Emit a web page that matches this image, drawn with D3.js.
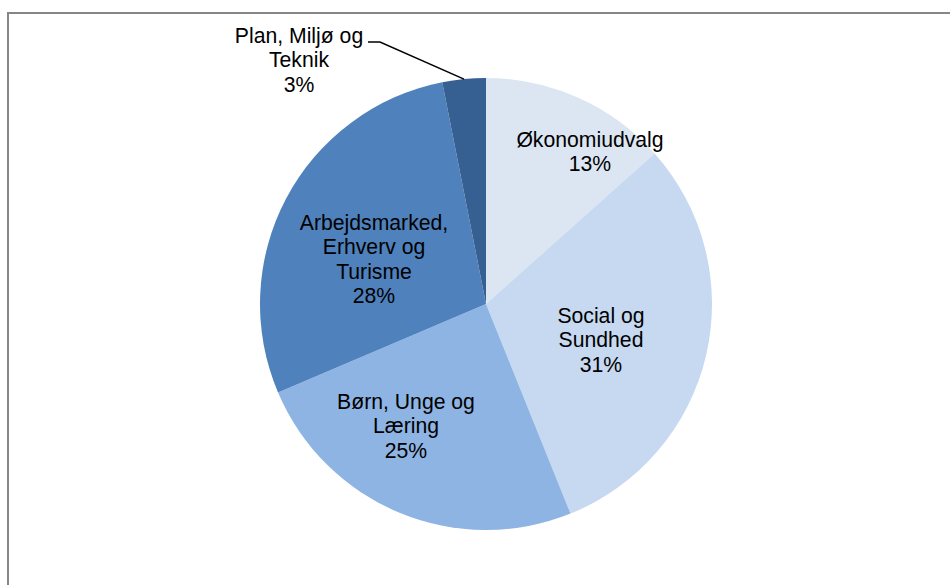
<!DOCTYPE html>
<html>
<head>
<meta charset="utf-8">
<script src="https://cdn.jsdelivr.net/npm/d3@7"></script>
<style>
  html, body { margin: 0; padding: 0; background: #fff; }
  svg { display: block; }
  text { font-family: "Liberation Sans", Arial, sans-serif; }
</style>
</head>
<body>
<svg id="chart" width="950" height="585"></svg>
<script>
// ---- Data ----
const categories = ["Økonomiudvalg", "Social og Sundhed", "Børn, Unge og Læring", "Arbejdsmarked, Erhverv og Turisme", "Plan, Miljø og Teknik"];
const labelLines = [
  ["Økonomiudvalg"],
  ["Social og", "Sundhed"],
  ["Børn, Unge og", "Læring"],
  ["Arbejdsmarked,", "Erhverv og", "Turisme"],
  ["Plan, Miljø og", "Teknik"]
];
const values = [13.4, 30.5, 24.7, 28.3, 3.1];
const percentLabels = ["13%", "31%", "25%", "28%", "3%"];
const colors = ["#DCE6F2", "#C6D9F1", "#8EB4E3", "#4F81BD", "#376092"];

// ---- Layout ----
const W = 950, H = 585;
const cx = 486, cy = 304, R = 226;
// label centers (offset from pie center, first line center y)
const labelPos = [
  {dx: 104, dy: -165},
  {dx: 115, dy: 11},
  {dx: -80, dy: 97},
  {dx: -112, dy: -82},
  {dx: -187, dy: -269}
];
const lineH = 24.5;

const svg = d3.select("#chart");

// chart frame
svg.append("rect")
  .attr("x", 8).attr("y", 13)
  .attr("width", 1000).attr("height", 1000)
  .attr("fill", "none")
  .attr("stroke", "#868686")
  .attr("stroke-width", 2);

const pie = d3.pie().sort(null).value(d => d)(values);
const arc = d3.arc().innerRadius(0).outerRadius(R);

const g = svg.append("g").attr("transform", `translate(${cx},${cy})`);

g.selectAll("path.slice")
  .data(pie)
  .join("path")
  .attr("class", "slice")
  .attr("d", arc)
  .attr("fill", (d, i) => colors[i]);

// leader line for the small slice
const small = pie[4];
const mid = (small.startAngle + small.endAngle) / 2;
const p0 = [R * Math.sin(mid), -R * Math.cos(mid)];
const p1 = [-106, -262];
const p2 = [-118, -262];
g.append("polyline")
  .attr("points", [p0, p1, p2].map(p => p.join(",")).join(" "))
  .attr("fill", "none")
  .attr("stroke", "#000")
  .attr("stroke-width", 1.5);

// labels
pie.forEach((d, i) => {
  const lines = labelLines[i].concat([percentLabels[i]]);
  const t = g.append("text")
    .attr("text-anchor", "middle")
    .attr("font-size", 21.2)
    .attr("fill", "#000");
  lines.forEach((ln, j) => {
    t.append("tspan")
      .attr("x", labelPos[i].dx)
      .attr("y", labelPos[i].dy + j * lineH + 7.5)
      .text(ln);
  });
});
</script>
</body>
</html>
